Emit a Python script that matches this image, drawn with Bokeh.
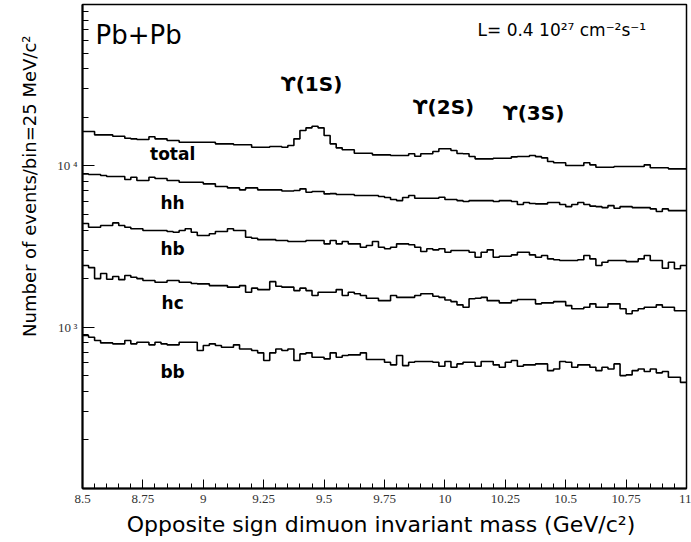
import numpy as np
from bokeh.plotting import figure
from bokeh.models import FixedTicker, Title
from bokeh.core.properties import value
from bokeh.embed import file_html
from bokeh.resources import INLINE

# ---------------- data ----------------
mass_min, mass_max, bin_width = 8.5, 11.0, 0.025

total = [16320, 16320, 15560, 15560, 15560, 15260, 15260, 14830, 14700, 14550,
         14550, 15130, 14700, 14700, 14350, 14350, 14010, 14010, 14010, 14010,
         14010, 14010, 13690, 13690, 13690, 13500, 13500, 13500, 13040, 13040,
         13040, 13170, 13170, 13040, 13360, 14700, 16550, 17200, 17600, 17200,
         15410, 13690, 12930, 12570, 12570, 11970, 11970, 11970, 11700, 11700,
         11700, 11580, 11580, 11580, 11870, 11470, 11870, 11870, 12260, 12750,
         12750, 12440, 11920, 11870, 11420, 11050, 11050, 11050, 11150, 11150,
         11150, 11370, 11420, 11420, 11580, 11400, 11210, 10630, 10440, 10440,
         10040, 10040, 10040, 10440, 10140, 9800, 9800, 9800, 9900, 9900,
         9900, 9900, 9900, 10140, 9720, 9720, 9720, 9580, 9580, 9580]

hh = [8900, 8830, 8830, 8710, 8580, 8580, 8580, 8220, 8500, 8110,
      8110, 8500, 8340, 8340, 8110, 8110, 7910, 7910, 7910, 7910,
      7730, 7730, 7440, 7440, 7300, 7300, 7100, 7300, 7300, 7100,
      7100, 7100, 7100, 6980, 6980, 7030, 7200, 6860, 6930, 6930,
      6700, 6730, 6640, 6640, 6640, 6550, 6550, 6550, 6550, 6450,
      6360, 6180, 6090, 6360, 6550, 6300, 6300, 6300, 6300, 6390,
      6180, 6180, 6090, 6010, 6090, 6090, 6090, 6090, 6010, 6090,
      6090, 6010, 5755, 5920, 5840, 5810, 5810, 5920, 5920, 5755,
      5590, 5755, 5920, 5755, 5630, 5590, 5510, 5670, 5460, 5590,
      5590, 5510, 5510, 5510, 5410, 5210, 5410, 5280, 5280, 5280]

hb = [4390, 4160, 4160, 4265, 4265, 4430, 4265, 4160, 4070, 4070,
      3970, 3970, 3970, 3970, 3915, 3875, 3970, 4070, 3875, 3700,
      3700, 3790, 3915, 3915, 4070, 3970, 3970, 3610, 3560, 3490,
      3490, 3490, 3445, 3445, 3395, 3395, 3395, 3445, 3445, 3445,
      3285, 3445, 3285, 3395, 3285, 3285, 3130, 3205, 3395, 3130,
      3060, 3130, 3285, 3285, 3240, 3130, 2945, 3060, 3015, 3060,
      2915, 2985, 2985, 2985, 2915, 2715, 2915, 3015, 2715, 2750,
      2750, 2805, 2915, 2915, 2805, 2715, 2780, 2650, 2615, 2590,
      2590, 2590, 2615, 2780, 2650, 2410, 2525, 2590, 2590, 2590,
      2550, 2550, 2650, 2780, 2590, 2590, 2320, 2525, 2300, 2410]

hc = [2410, 2340, 2000, 2150, 1980, 2060, 1970, 2090, 2040, 2000,
      1945, 1945, 1900, 1900, 1945, 1945, 1900, 1900, 1865, 1855,
      1855, 1810, 1810, 1810, 1770, 1770, 1810, 1645, 1745, 1710,
      1710, 1915, 1795, 1770, 1770, 1685, 1745, 1685, 1570, 1645,
      1645, 1645, 1710, 1570, 1645, 1610, 1570, 1510, 1510, 1460,
      1460, 1570, 1530, 1530, 1530, 1570, 1610, 1610, 1555, 1530,
      1475, 1440, 1375, 1330, 1500, 1510, 1530, 1460, 1460, 1415,
      1415, 1460, 1485, 1485, 1485, 1395, 1415, 1415, 1440, 1440,
      1360, 1300, 1300, 1330, 1395, 1330, 1330, 1395, 1395, 1300,
      1210, 1265, 1300, 1330, 1330, 1375, 1330, 1330, 1265, 1265]

bb = [887, 866, 826, 799, 799, 788, 788, 826, 788, 806,
      806, 777, 806, 788, 777, 777, 806, 806, 806, 716,
      769, 788, 769, 750, 750, 777, 733, 733, 716, 693,
      621, 693, 733, 716, 733, 621, 683, 693, 651, 651,
      636, 693, 651, 667, 673, 673, 693, 630, 630, 630,
      606, 584, 667, 578, 606, 612, 612, 612, 606, 572,
      612, 564, 592, 606, 606, 572, 612, 612, 584, 564,
      606, 621, 572, 584, 584, 592, 592, 538, 551, 612,
      606, 564, 584, 584, 564, 538, 564, 551, 592, 501,
      506, 538, 551, 531, 551, 521, 531, 489, 489, 455]

series_names = ["total", "hh", "hb", "hc", "bb"]
series_values = [total, hh, hb, hc, bb]

x_tick_values = [8.5, 8.75, 9.0, 9.25, 9.5, 9.75, 10.0, 10.25, 10.5, 10.75, 11.0]
x_tick_labels = ["8.5", "8.75", "9", "9.25", "9.5", "9.75", "10", "10.25", "10.5", "10.75", "11"]
y_tick_values = [1000, 10000]
y_tick_labels = ["10\u2009\u00b3", "10\u2009\u2074"]

# label placements (data coordinates)
series_label_x = [8.873, 8.873, 8.873, 8.873, 8.873]
series_label_y = [11920, 5923, 3071, 1421, 530]
peak_texts = ["\u03d2(1S)", "\u03d2(2S)", "\u03d2(3S)"]
peak_x = [9.448, 9.994, 10.367]
peak_y = [32370, 23320, 21400]

FONT = "DejaVu Sans"
SERIF = "Liberation Serif"

p = figure(width=691, height=542, x_range=(mass_min, mass_max), y_range=(100, 1e5),
           y_axis_type="log", output_backend="svg", toolbar_location=None,
           min_border_left=82, min_border_right=5, min_border_top=4, min_border_bottom=54)

edges = mass_min + bin_width * np.arange(len(total) + 1)
for vals in series_values:
    ys = list(vals) + [vals[-1]]
    p.step(edges, ys, mode="after", line_color="black", line_width=1.6)

p.text(x=series_label_x, y=series_label_y, text=series_names,
       text_font=value(FONT), text_font_size="17px", text_font_style="bold",
       text_align="center", text_baseline="middle", text_color="black")
p.text(x=peak_x, y=peak_y, text=peak_texts,
       text_font=value(FONT), text_font_size="20px", text_font_style="bold",
       text_align="center", text_baseline="middle", text_color="black")
p.text(x=[8.554], y=[65160], text=["Pb+Pb"],
       text_font=value(FONT), text_font_size="26px",
       text_align="left", text_baseline="middle", text_color="black")
p.text(x=[10.135], y=[69000], text=["L= 0.4 10\u00b2\u2077 cm\u207b\u00b2s\u207b\u00b9"],
       text_font=value(FONT), text_font_size="17px",
       text_align="left", text_baseline="middle", text_color="black")

# axes
p.xgrid.visible = False
p.ygrid.visible = False
p.outline_line_color = "black"
p.outline_line_width = 1.5

xa = p.xaxis[0]
xa.ticker = FixedTicker(ticks=x_tick_values,
                        minor_ticks=[round(8.5 + 0.05 * k, 2) for k in range(51)])
xa.major_label_overrides = dict(zip(x_tick_values, x_tick_labels))
xa.axis_label = "Opposite sign dimuon invariant mass  (GeV/c\u00b2)"

ya = p.yaxis[0]
ya.ticker = FixedTicker(ticks=y_tick_values,
                        minor_ticks=[k * 10 ** e for e in (2, 3, 4) for k in range(2, 10)])
ya.major_label_overrides = dict(zip(y_tick_values, y_tick_labels))

for ax in (xa, ya):
    ax.axis_line_width = 2
    ax.axis_line_color = "black"
    ax.major_tick_out = 0
    ax.minor_tick_out = 0
    ax.major_tick_line_color = "black"
    ax.minor_tick_line_color = "black"
    ax.major_label_text_font = SERIF
    ax.major_label_text_font_size = "13px"
    ax.major_label_text_color = "#333333"
    ax.axis_label_text_font = FONT
    ax.axis_label_text_font_style = "normal"
    ax.axis_label_text_font_size = "22px"
    ax.axis_label_text_color = "black"

xa.major_tick_in = 9
xa.minor_tick_in = 5
xa.major_label_standoff = 6
xa.axis_label_standoff = 6
ya.major_tick_in = 12
ya.minor_tick_in = 6
ya.major_label_standoff = 5

ytitle = Title(text="Number of events/bin=25 MeV/c\u00b2", align="right", offset=31,
               text_font=FONT, text_font_size="18px", text_font_style="normal",
               text_color="black", standoff=29)
p.add_layout(ytitle, "left")

open("out.html", "w").write(file_html(p, INLINE))
